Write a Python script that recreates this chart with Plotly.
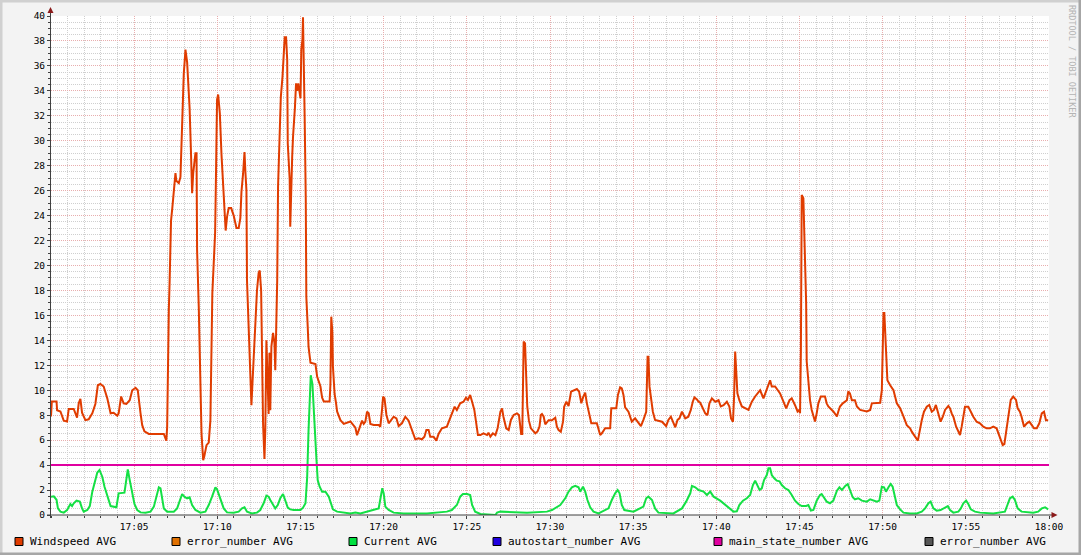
import plotly.graph_objects as go
import pandas as pd

# ---------------- data (seconds after 17:00, values) ----------------
wind_t = [0, 3, 20, 22, 34, 46, 58, 64, 82, 88, 94, 100, 106, 112, 124, 136, 149, 160, 169, 178,
          190, 203, 215, 226, 239, 244, 253, 262, 272, 284, 293, 305, 313, 323, 329, 337, 353, 407, 410, 416,
          419, 421, 425, 428, 433, 438, 443, 449, 452, 461, 467, 470, 475, 479, 482, 485, 491, 497, 500, 505,
          509, 513, 517, 521, 525, 527, 533, 539, 543, 549, 553, 561, 569, 575, 579, 582, 587, 592, 594, 597,
          599, 603, 606, 609, 615, 618, 623, 627, 630, 635, 641, 650, 659, 669, 677, 683, 687, 693, 698, 701,
          705, 707, 713, 719, 723, 729, 735, 738, 743, 749, 753, 758, 761, 765, 770, 773, 777, 782, 785, 788,
          791, 795, 801, 806, 809, 812, 816, 819, 825, 829, 835, 839, 843, 848, 852, 854, 857, 861, 863, 866,
          870, 873, 877, 880, 884, 888, 892, 896, 900, 903, 907, 909, 911, 915, 919, 921, 926, 929, 936, 954,
          960, 972, 978, 984, 1005, 1008, 1011, 1015, 1017, 1023, 1028, 1032, 1044, 1056, 1080, 1092, 1098, 1104, 1112, 1122,
          1128, 1134, 1140, 1146, 1152, 1164, 1182, 1188, 1194, 1198, 1203, 1210, 1218, 1227, 1236, 1246, 1254, 1266, 1278, 1290,
          1302, 1314, 1326, 1338, 1347, 1354, 1362, 1368, 1380, 1390, 1398, 1410, 1428, 1440, 1450, 1456, 1464, 1476, 1488, 1497,
          1504, 1512, 1519, 1527, 1534, 1540, 1549, 1560, 1573, 1578, 1585, 1594, 1603, 1611, 1621, 1627, 1632, 1642, 1651, 1659,
          1669, 1681, 1688, 1693, 1696, 1700, 1702, 1705, 1710, 1713, 1718, 1724, 1731, 1741, 1747, 1755, 1762, 1767, 1771, 1777,
          1783, 1795, 1807, 1819, 1825, 1831, 1839, 1847, 1851, 1859, 1867, 1876, 1885, 1897, 1905, 1913, 1919, 1927, 1933, 1943,
          1949, 1969, 1975, 1981, 1987, 1999, 2017, 2021, 2039, 2045, 2053, 2059, 2065, 2071, 2083, 2095, 2107, 2119, 2128, 2137,
          2147, 2152, 2155, 2159, 2164, 2171, 2179, 2204, 2219, 2227, 2236, 2243, 2252, 2260, 2267, 2276, 2281, 2288, 2299, 2308,
          2315, 2321, 2330, 2336, 2342, 2348, 2360, 2368, 2375, 2384, 2396, 2408, 2416, 2426, 2438, 2447, 2453, 2460, 2464, 2468,
          2472, 2476, 2483, 2492, 2516, 2528, 2540, 2552, 2558, 2570, 2582, 2594, 2600, 2612, 2630, 2642, 2652, 2664, 2672, 2684,
          2693, 2699, 2702, 2705, 2706, 2708, 2714, 2717, 2720, 2724, 2726, 2730, 2735, 2738, 2744, 2750, 2756, 2762, 2768, 2777,
          2792, 2798, 2804, 2822, 2835, 2840, 2846, 2856, 2871, 2876, 2882, 2889, 2900, 2907, 2919, 2943, 2955, 2961, 2991, 2997,
          3000, 3003, 3006, 3009, 3012, 3017, 3027, 3039, 3051, 3063, 3075, 3081, 3087, 3099, 3105, 3117, 3127, 3141, 3149, 3159,
          3168, 3177, 3185, 3192, 3201, 3209, 3217, 3225, 3237, 3243, 3249, 3255, 3265, 3273, 3279, 3285, 3291, 3297, 3309, 3318,
          3327, 3339, 3351, 3363, 3375, 3387, 3399, 3411, 3417, 3426, 3433, 3439, 3445, 3453, 3462, 3471, 3481, 3487, 3495, 3501,
          3510, 3520, 3529, 3538, 3546, 3556, 3565, 3574, 3582, 3589, 3597]
wind_v = [7.9, 9.1, 9.1, 8.4, 8.3, 7.56, 7.5, 8.5, 8.5, 8.1, 7.8, 8.95, 9.3, 8.2, 7.6, 7.67, 8.15, 8.9, 10.4, 10.5,
          10.3, 9.35, 8.15, 8.2, 7.96, 8.15, 9.5, 8.95, 8.9, 9.2, 10.0, 10.2, 10.0, 8.15, 7.2, 6.7, 6.5, 6.5, 6.3, 5.96,
          7.05, 12.4, 16.4, 18.8, 23.6, 24.7, 25.8, 27.4, 26.8, 26.6, 27.1, 29.7, 32.9, 35.4, 36.3, 37.3, 36.3, 34.2, 32.6, 29.0,
          25.8, 27.4, 28.5, 29.0, 29.0, 21.2, 16.7, 11.1, 6.5, 4.4, 4.7, 5.6, 5.8, 7.6, 12.4, 17.8, 20.2, 22.6, 25.5, 30.6,
          33.3, 33.7, 33.0, 32.2, 28.9, 27.5, 26.1, 24.2, 22.8, 23.9, 24.6, 24.6, 24.0, 23.0, 23.0, 23.8, 25.9, 27.4, 29.1, 27.6,
          26.0, 18.8, 14.3, 10.5, 8.8, 11.6, 14.3, 15.9, 18.0, 19.4, 19.6, 18.0, 13.0, 7.3, 4.5, 6.8, 14.0, 9.2, 8.1, 13.0,
          8.4, 13.5, 14.6, 13.8, 11.6, 14.6, 18.8, 26.3, 29.8, 33.5, 35.1, 36.7, 38.3, 38.3, 36.5, 29.8, 28.5, 26.9, 23.1, 26.9,
          28.7, 30.3, 31.4, 32.7, 34.6, 34.0, 34.6, 33.7, 33.4, 37.3, 38.1, 39.9, 37.9, 31.9, 25.3, 17.5, 15.1, 13.5, 12.2, 12.1,
          11.1, 10.3, 9.4, 9.1, 9.1, 10.5, 15.9, 14.6, 11.9, 9.7, 9.0, 8.3, 7.6, 7.3, 7.5, 7.2, 7.0, 6.4, 6.95, 7.56,
          7.3, 7.48, 8.28, 8.15, 7.3, 7.21, 7.21, 7.08, 8.42, 9.49, 9.35, 8.02, 7.35, 7.62, 7.88, 7.75, 7.13, 7.35, 7.88, 7.56,
          6.81, 6.07, 6.15, 6.07, 6.28, 6.81, 6.81, 6.28, 6.28, 5.96, 6.5, 6.95, 7.08, 7.75, 8.28, 8.68, 8.42, 8.95, 9.08, 9.4,
          9.22, 9.62, 9.08, 8.42, 7.35, 6.41, 6.41, 6.55, 6.41, 6.6, 6.28, 6.55, 6.41, 6.95, 8.28, 8.55, 7.88, 6.95, 6.81, 7.62,
          8.02, 8.15, 8.02, 6.95, 6.5, 6.5, 10.3, 13.9, 13.76, 10.95, 8.68, 7.56, 6.95, 6.7, 6.55, 6.7, 7.08, 8.02, 8.1, 7.9,
          7.27, 7.6, 7.6, 7.8, 7.08, 6.81, 6.68, 7.48, 8.68, 9.08, 8.74, 9.89, 9.97, 10.1, 9.89, 8.95, 9.43, 9.81, 8.95, 7.88,
          7.35, 7.35, 6.95, 6.41, 6.55, 6.95, 6.95, 8.55, 8.55, 9.62, 10.23, 10.15, 9.62, 8.63, 8.28, 7.48, 7.75, 7.4, 7.13, 7.62,
          8.28, 12.69, 12.69, 10.29, 9.35, 8.28, 7.62, 7.48, 7.13, 7.62, 7.88, 7.48, 7.03, 7.62, 7.75, 8.28, 8.02, 7.75, 7.88, 8.42,
          9.08, 9.43, 9.27, 9.08, 9.0, 8.7, 8.15, 8.0, 8.95, 9.35, 9.08, 9.2, 8.7, 8.8, 9.08, 8.7, 7.75, 7.48, 9.5, 13.1,
          10.8, 9.75, 9.2, 8.7, 8.42, 9.08, 9.5, 9.9, 10.0, 9.35, 10.15, 10.8, 10.3, 10.3, 9.75, 9.08, 8.55, 9.2, 9.35, 8.8,
          8.3, 8.42, 8.15, 13.2, 22.8, 25.65, 25.4, 22.8, 20.7, 16.97, 12.3, 11.1, 10.0, 9.2, 8.42, 7.9, 7.5, 8.15, 8.95, 9.5,
          9.5, 8.95, 8.7, 8.3, 7.9, 8.3, 8.7, 8.95, 9.2, 9.9, 9.75, 9.2, 9.2, 8.7, 8.42, 8.3, 8.42, 8.95, 9.0, 10.0,
          14.3, 16.2, 16.2, 14.3, 12.4, 10.8, 10.4, 10.0, 8.95, 8.55, 7.9, 7.6, 7.2, 6.95, 6.68, 6.28, 5.96, 7.6, 8.28, 8.68,
          8.82, 8.28, 8.42, 8.82, 8.15, 7.48, 7.88, 8.42, 8.74, 8.55, 8.15, 7.88, 7.08, 6.68, 6.41, 7.08, 7.88, 8.68, 8.68, 8.28,
          7.88, 7.48, 7.35, 7.08, 6.95, 6.95, 7.08, 6.95, 6.55, 6.0, 5.61, 5.69, 6.55, 7.88, 9.22, 9.49, 9.22, 8.55, 8.28, 7.88,
          7.08, 7.35, 7.48, 7.2, 6.95, 6.95, 7.35, 8.15, 8.28, 7.6, 7.6]

cur_t = [0, 10, 20, 25, 34, 46, 58, 64, 70, 76, 82, 92, 104, 112, 118, 131, 140, 149, 157, 167,
         175, 185, 193, 203, 208, 215, 236, 244, 265, 272, 277, 284, 293, 301, 311, 323, 341, 359, 371, 380,
         389, 395, 401, 407, 419, 443, 455, 464, 473, 481, 491, 500, 509, 521, 539, 557, 569, 581, 593, 599,
         611, 623, 635, 659, 677, 689, 698, 707, 725, 743, 755, 767, 777, 785, 791, 801, 809, 818, 827, 837,
         845, 854, 863, 875, 900, 909, 918, 924, 929, 933, 937, 943, 945, 950, 957, 962, 969, 978, 990, 1002,
         1010, 1017, 1032, 1056, 1080, 1098, 1116, 1182, 1190, 1195, 1200, 1206, 1218, 1236, 1272, 1356, 1428, 1446, 1464, 1476,
         1486, 1501, 1512, 1519, 1530, 1549, 1603, 1609, 1621, 1717, 1789, 1807, 1837, 1855, 1867, 1879, 1891, 1903, 1909, 1919,
         1927, 1935, 1945, 1957, 1975, 2011, 2023, 2035, 2044, 2051, 2059, 2068, 2101, 2137, 2147, 2155, 2168, 2179, 2191, 2245,
         2276, 2291, 2306, 2312, 2324, 2336, 2354, 2366, 2378, 2390, 2414, 2438, 2450, 2462, 2474, 2483, 2496, 2510, 2522, 2532,
         2540, 2548, 2556, 2564, 2572, 2582, 2588, 2594, 2600, 2609, 2618, 2628, 2636, 2648, 2660, 2672, 2684, 2696, 2708, 2724,
         2732, 2741, 2750, 2762, 2774, 2780, 2789, 2798, 2810, 2822, 2835, 2844, 2853, 2865, 2874, 2882, 2892, 2900, 2912, 2925,
         2943, 2955, 2979, 2988, 2997, 3005, 3012, 3021, 3029, 3036, 3045, 3051, 3063, 3075, 3099, 3123, 3141, 3153, 3165, 3173,
         3183, 3195, 3209, 3221, 3235, 3243, 3255, 3273, 3282, 3291, 3301, 3309, 3318, 3333, 3351, 3399, 3441, 3450, 3459, 3469,
         3477, 3487, 3501, 3543, 3561, 3574, 3586, 3597]
cur_v = [1.47, 1.5, 1.22, 0.53, 0.27, 0.19, 0.4, 0.67, 0.88, 0.72, 0.94, 1.15, 1.07, 0.53, 0.27, 0.4, 0.72, 1.87, 2.54, 3.4,
         3.6, 3.07, 2.27, 1.47, 1.07, 0.72, 0.62, 1.74, 1.79, 3.07, 3.66, 2.8, 1.87, 0.88, 0.4, 0.21, 0.19, 0.27, 0.67, 1.47,
         2.22, 2.14, 1.34, 0.53, 0.27, 0.27, 0.53, 1.07, 1.68, 1.47, 1.34, 1.42, 0.8, 0.4, 0.19, 0.27, 0.8, 1.47, 2.22, 2.06,
         1.2, 0.53, 0.21, 0.19, 0.27, 0.53, 0.62, 0.27, 0.13, 0.19, 0.4, 0.94, 1.55, 1.47, 1.2, 0.88, 0.53, 0.8, 1.34, 1.68,
         1.07, 0.59, 0.45, 0.4, 0.4, 0.59, 0.94, 3.0, 6.8, 9.5, 11.2, 10.5, 9.8, 7.35, 4.68, 2.8, 2.27, 1.87, 1.87, 1.47,
         0.94, 0.45, 0.27, 0.19, 0.13, 0.19, 0.13, 0.53, 1.74, 2.14, 1.74, 0.67, 0.4, 0.19, 0.13, 0.13, 0.27, 0.4, 0.8, 1.47,
         1.68, 1.68, 1.6, 0.8, 0.27, 0.08, 0.0, 0.19, 0.27, 0.19, 0.27, 0.4, 0.8, 1.34, 1.87, 2.22, 2.33, 2.22, 1.87, 2.27,
         1.87, 1.2, 0.62, 0.27, 0.13, 0.53, 1.2, 1.74, 2.0, 1.74, 0.8, 0.4, 0.27, 0.67, 1.34, 1.47, 1.2, 0.53, 0.19, 0.13,
         0.53, 1.07, 1.74, 2.33, 2.22, 2.0, 1.87, 1.6, 1.87, 1.47, 1.15, 0.72, 0.53, 0.27, 0.3, 0.8, 1.15, 1.34, 1.6, 2.4,
         2.75, 2.33, 2.0, 2.14, 2.8, 3.2, 3.74, 3.74, 3.2, 2.94, 2.75, 2.7, 2.4, 2.14, 2.0, 1.6, 1.15, 0.88, 0.72, 0.72,
         0.8, 0.35, 0.4, 1.15, 1.6, 1.68, 1.34, 1.07, 0.94, 1.15, 1.95, 2.22, 2.0, 2.33, 2.48, 2.0, 1.42, 1.26, 1.34, 1.15,
         1.07, 1.26, 1.07, 1.15, 2.27, 2.22, 1.87, 2.22, 2.48, 2.27, 1.2, 0.8, 0.45, 0.19, 0.13, 0.13, 0.27, 0.53, 0.94, 1.07,
         0.53, 0.35, 0.4, 0.53, 0.72, 0.4, 0.19, 0.27, 0.53, 0.94, 1.15, 0.88, 0.45, 0.27, 0.19, 0.13, 0.27, 0.8, 1.34, 1.47,
         1.2, 0.53, 0.27, 0.19, 0.27, 0.53, 0.62, 0.45]

state_t = [0, 3600]
state_v = [4, 4]

tick_minutes = [5, 10, 15, 20, 25, 30, 35, 40, 45, 50, 55, 60]

legend_labels = ["Windspeed AVG", "error_number AVG", "Current AVG",
                 "autostart_number AVG", "main_state_number AVG", "error_number AVG"]
legend_colors = ["#E03C00", "#E07000", "#00E040", "#2000E0", "#E000A0", "#555555"]

# ---------------- figure ----------------
base = pd.Timestamp("2020-01-01 17:00:00")
W, H = 1081, 555
L, R, T, B = 51, 32, 16, 40
PW, PH = W - L - R, H - T - B


def px(x):
    return (x - L) / PW


def py(y):
    return (H - B - y) / PH


def tx(sec):
    return base + pd.to_timedelta(sec, unit="s")


MONO = "DejaVu Sans Mono"

fig = go.Figure()
fig.add_trace(go.Scatter(x=tx(wind_t), y=wind_v, mode="lines",
                         line=dict(color="#E03C00", width=2), name=legend_labels[0]))
fig.add_trace(go.Scatter(x=tx(cur_t), y=cur_v, mode="lines",
                         line=dict(color="#14E044", width=2), name=legend_labels[2]))
fig.add_trace(go.Scatter(x=tx(state_t), y=state_v, mode="lines",
                         line=dict(color="#E000A0", width=2), name=legend_labels[4]))

shapes = []
annotations = []

# 3D frame around the image
shapes += [
    dict(type="rect", xref="paper", yref="paper", x0=px(0), x1=px(2.5), y0=py(H), y1=py(0),
         fillcolor="#D0D0D0", line=dict(width=0)),
    dict(type="rect", xref="paper", yref="paper", x0=px(0), x1=px(W), y0=py(2.5), y1=py(0),
         fillcolor="#D0D0D0", line=dict(width=0)),
    dict(type="rect", xref="paper", yref="paper", x0=px(W - 2.5), x1=px(W), y0=py(H), y1=py(0),
         fillcolor="#A6A6A6", line=dict(width=0)),
    dict(type="rect", xref="paper", yref="paper", x0=px(0), x1=px(W), y0=py(H), y1=py(H - 2.5),
         fillcolor="#A6A6A6", line=dict(width=0)),
]

# axes lines with arrows
AX = "#404040"
shapes += [
    dict(type="line", xref="paper", yref="paper", x0=px(50.5), x1=px(50.5), y0=py(518), y1=py(11),
         line=dict(color=AX, width=1)),
    dict(type="line", xref="paper", yref="paper", x0=px(47), x1=px(1053), y0=py(515), y1=py(515),
         line=dict(color=AX, width=1)),
    dict(type="path", xref="paper", yref="paper",
         path=f"M {px(47.5)} {py(13)} L {px(53.5)} {py(13)} L {px(50.5)} {py(7)} Z",
         fillcolor="#8B1A1A", line=dict(width=0)),
    dict(type="path", xref="paper", yref="paper",
         path=f"M {px(1051.5)} {py(512)} L {px(1051.5)} {py(518)} L {px(1057.5)} {py(515)} Z",
         fillcolor="#8B1A1A", line=dict(width=0)),
]

# legend
sq_left = [15, 172, 349, 493, 714, 925]
for lab, col, x0 in zip(legend_labels, legend_colors, sq_left):
    shapes.append(dict(type="rect", xref="paper", yref="paper",
                       x0=px(x0), x1=px(x0 + 8), y0=py(545.5), y1=py(537.5),
                       fillcolor=col, line=dict(color="#000000", width=1)))
    annotations.append(dict(text=lab, xref="paper", yref="paper", x=px(x0 + 13), y=py(541.5),
                            xanchor="left", yanchor="middle", showarrow=False,
                            font=dict(family=MONO, size=11, color="#000000")))

# watermark
annotations.append(dict(text="RRDTOOL / TOBI OETIKER", xref="paper", yref="paper",
                        x=px(1072), y=py(61), textangle=90, showarrow=False,
                        xanchor="center", yanchor="middle",
                        font=dict(family=MONO, size=8.5, color="#B4B4B4")))

MINOR_GRID = "#CFCFCF"
MAJOR_GRID = "#E8AEAE"

fig.update_layout(
    width=W, height=H,
    margin=dict(l=L, r=R, t=T, b=B, pad=0, autoexpand=False),
    paper_bgcolor="#F3F3F3",
    plot_bgcolor="#FFFFFF",
    showlegend=False,
    hovermode=False,
    shapes=shapes,
    annotations=annotations,
    font=dict(family=MONO, size=9.5, color="#000000"),
    xaxis=dict(
        type="date",
        range=[base, base + pd.Timedelta(seconds=3600)],
        tickmode="array",
        tickvals=[base + pd.Timedelta(minutes=m) for m in tick_minutes],
        tickformat="%H:%M",
        showgrid=True, gridcolor=MAJOR_GRID, griddash="1px,1px", gridwidth=1,
        showline=False, zeroline=False,
        ticks="outside", ticklen=3, tickcolor=AX,
        tickfont=dict(family=MONO, size=9.5, color="#000000"),
        minor=dict(tick0=base, dtick=60000, showgrid=True, gridcolor=MINOR_GRID, griddash="1px,1px",
                   ticks="outside", ticklen=2, tickcolor=AX),
    ),
    yaxis=dict(
        range=[0, 40], tick0=0, dtick=2,
        showgrid=True, gridcolor=MAJOR_GRID, griddash="1px,1px", gridwidth=1,
        showline=False, zeroline=False,
        ticks="outside", ticklen=3, tickcolor=AX,
        tickfont=dict(family=MONO, size=9.5, color="#000000"),
        minor=dict(dtick=0.5, showgrid=True, gridcolor=MINOR_GRID, griddash="1px,1px",
                   ticks="outside", ticklen=2, tickcolor=AX),
    ),
)

fig.write_html("out.html", config={"displayModeBar": False, "staticPlot": True},
               post_script="document.body.style.margin='0';document.body.style.overflow='hidden';")
